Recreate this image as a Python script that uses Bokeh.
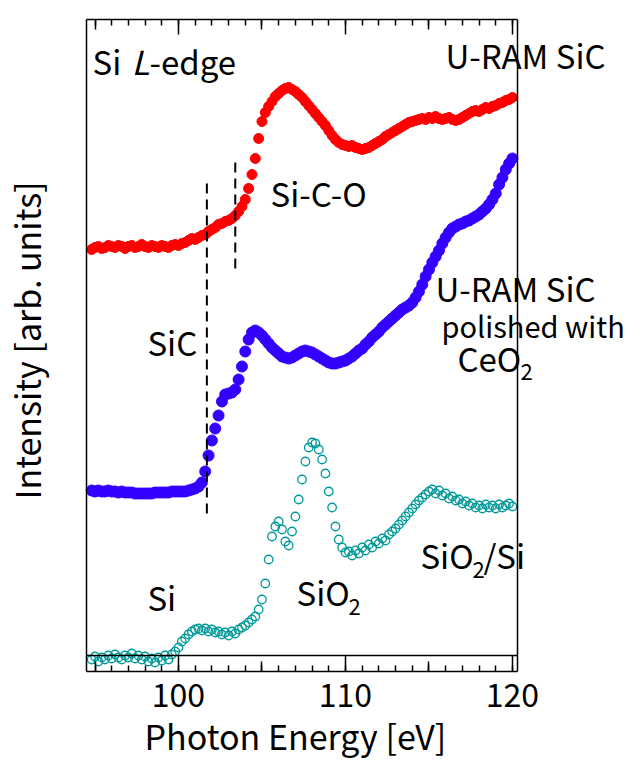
from bokeh.plotting import figure
from bokeh.models import Range1d, LinearAxis, FixedTicker, Label
from bokeh.embed import file_html
from bokeh.resources import INLINE

FONT = "Noto Sans CJK JP"

# ---------------- data (photon energy in eV, intensity in arb. units) ----------------
energy_ev = [
    94.8, 95.0, 95.2, 95.4, 95.6, 95.8, 96.0, 96.2, 96.4, 96.6,
    96.8, 97.0, 97.2, 97.4, 97.6, 97.8, 98.0, 98.2, 98.4, 98.6,
    98.8, 99.0, 99.2, 99.4, 99.6, 99.8, 100.0, 100.2, 100.4, 100.6,
    100.8, 101.0, 101.2, 101.4, 101.6, 101.8, 102.0, 102.2, 102.4, 102.6,
    102.8, 103.0, 103.2, 103.4, 103.6, 103.8, 104.0, 104.2, 104.4, 104.6,
    104.8, 105.0, 105.2, 105.4, 105.6, 105.8, 106.0, 106.2, 106.4, 106.6,
    106.8, 107.0, 107.2, 107.4, 107.6, 107.8, 108.0, 108.2, 108.4, 108.6,
    108.8, 109.0, 109.2, 109.4, 109.6, 109.8, 110.0, 110.2, 110.4, 110.6,
    110.8, 111.0, 111.2, 111.4, 111.6, 111.8, 112.0, 112.2, 112.4, 112.6,
    112.8, 113.0, 113.2, 113.4, 113.6, 113.8, 114.0, 114.2, 114.4, 114.6,
    114.8, 115.0, 115.2, 115.4, 115.6, 115.8, 116.0, 116.2, 116.4, 116.6,
    116.8, 117.0, 117.2, 117.4, 117.6, 117.8, 118.0, 118.2, 118.4, 118.6,
    118.8, 119.0, 119.2, 119.4, 119.6, 119.8, 120.0,
]

uram_sic = [
    422, 424, 425, 423, 424, 426, 425, 424, 426, 425,
    423, 425, 426, 424, 425, 427, 425, 424, 426, 425,
    424, 426, 425, 424, 426, 427, 426, 428, 429, 431,
    433, 432, 434, 436, 437, 440, 442, 444, 447, 448,
    450, 451, 453, 456, 460, 465, 472, 483, 497, 513,
    533, 550, 559, 565, 570, 575, 578, 581, 583, 584,
    582, 580, 577, 574, 570, 566, 562, 558, 554, 550,
    546, 541, 536, 532, 529, 527, 526, 525, 526, 524,
    523, 522, 523, 524, 526, 528, 530, 532, 535, 537,
    539, 541, 543, 545, 547, 549, 550, 551, 552, 553,
    552, 554, 553, 555, 553, 552, 553, 554, 552, 551,
    552, 554, 556, 558, 560, 561, 560, 562, 564, 563,
    565, 566, 568, 569, 571, 572, 574,
]

uram_sic_ceo2 = [
    181, 180, 181, 180, 180, 181, 180, 180, 179, 180,
    179, 179, 179, 178, 178, 178, 178, 178, 178, 179,
    179, 179, 179, 179, 180, 180, 180, 180, 180, 181,
    182, 183, 185, 189, 200, 216, 231, 243, 256, 270,
    277, 278, 279, 282, 292, 305, 320, 332, 339, 341,
    339, 336, 332, 328, 324, 321, 318, 315, 314, 313,
    314, 316, 318, 320, 321, 320, 319, 317, 315, 313,
    311, 309, 308, 308, 309, 310, 311, 313, 315, 318,
    321, 323, 327, 330, 334, 337, 340, 344, 347, 350,
    353, 356, 359, 362, 364, 366, 369, 374, 380, 387,
    395, 402, 409, 415, 421, 428, 434, 439, 443, 445,
    447, 448, 450, 451, 453, 455, 457, 460, 463, 467,
    472, 478, 487, 494, 502, 508, 513,
]

sio2_si = [
    12, 15, 10, 14, 12, 16, 13, 17, 14, 12,
    16, 14, 18, 13, 16, 12, 15, 10, 13, 9,
    14, 11, 16, 12, 17, 20, 24, 30, 33, 37,
    40, 42, 43, 41, 43, 40, 42, 39, 40, 37,
    39, 36, 40, 38, 42, 44, 46, 49, 52, 55,
    62, 72, 88, 112, 135, 145, 150, 142, 130, 126,
    140, 155, 172, 192, 210, 224, 229, 228, 222, 212,
    198, 180, 164, 145, 132, 124, 119, 120, 116, 121,
    118, 124, 121, 127, 124, 130, 128, 133, 131, 137,
    140, 143, 147, 151, 155, 159, 163, 167, 171, 174,
    177, 180, 182, 178, 181, 176, 178, 173, 175, 171,
    172, 168, 170, 166, 168, 164, 166, 163, 167, 164,
    166, 163, 167, 164, 166, 168, 165,
]

# edge markers (dashed lines): energy, lower end, upper end
edge_energy = [101.7, 103.4]
edge_low = [158, 403]
edge_high = [489, 511]

# axes / frame
x_lo, x_hi = 94.49, 120.30        # energy span of the box
y_lo, y_hi = 0, 652               # intensity span of the box
inner_line = 16                   # inner base line of the box
labeled_ticks = [100, 110, 120]
mid_ticks = [95, 105, 115]
minor_ticks = list(range(95, 121))

# ---------------- figure ----------------
p = figure(width=629, height=762,
           x_range=Range1d(89.34, 127.01), y_range=Range1d(-91, 671),
           output_backend="svg", toolbar_location=None,
           x_axis_location=None, y_axis_location=None)
p.min_border = 0
p.outline_line_color = None
p.grid.visible = False
p.background_fill_color = "white"
p.border_fill_color = "white"


def tick_axis(loc, bounds, major, minor, major_len, minor_len, line=True, labels=False):
    ax = LinearAxis(ticker=FixedTicker(ticks=major, minor_ticks=minor),
                    fixed_location=loc, bounds=bounds)
    ax.major_tick_in = major_len
    ax.major_tick_out = 0
    ax.minor_tick_in = minor_len
    ax.minor_tick_out = 0
    ax.major_tick_line_width = 1.5
    ax.minor_tick_line_width = 1.5
    ax.major_tick_line_color = "black"
    ax.minor_tick_line_color = "black" if minor_len else None
    ax.axis_line_width = 1.5
    ax.axis_line_color = "black" if line else None
    if labels:
        ax.major_label_text_font = FONT
        ax.major_label_text_font_size = "32px"
        ax.major_label_text_color = "black"
        ax.major_label_standoff = 11
    else:
        ax.major_label_text_color = None
        ax.major_label_standoff = 0
    return ax


xb = (x_lo, x_hi)
yb = (y_lo, y_hi)
# top edge
p.add_layout(tick_axis(y_hi, xb, labeled_ticks, minor_ticks, 15, 6), "above")
p.add_layout(tick_axis(y_hi, xb, mid_ticks, [], 10, 0, line=False), "above")
# bottom edge with labels
p.add_layout(tick_axis(y_lo, xb, mid_ticks, [], 10, 0, line=False), "below")
p.add_layout(tick_axis(y_lo, xb, labeled_ticks, minor_ticks, 16, 6, labels=True), "below")
# inner base line
p.add_layout(tick_axis(inner_line, xb, [], [], 0, 0), "below")
# left / right edges
p.add_layout(tick_axis(x_lo, yb, [], [], 0, 0), "left")
p.add_layout(tick_axis(x_hi, yb, [], [], 0, 0), "right")

# ---------------- spectra ----------------
p.scatter(energy_ev, sio2_si, marker="circle", size=8.5,
          fill_color=None, line_color="#009999", line_width=1.3)
p.scatter(energy_ev, uram_sic_ceo2, marker="circle", size=11,
          fill_color="#3300ff", line_color="#3300ff")
p.scatter(energy_ev, uram_sic, marker="circle", size=10,
          fill_color="#ff0000", line_color="#ff0000")
p.segment(x0=edge_energy, y0=edge_low, x1=edge_energy, y1=edge_high,
          line_color="black", line_width=2, line_dash="10 6")

# ---------------- texts ----------------
# (text, x, y, size, style, white box behind it, align, angle)
texts = [
    ("Si", 94.85, 611, "33px", "normal", False, "left", 0),
    ("L", 97.19, 611, "33px", "italic", False, "left", 0),
    ("-edge", 98.26, 611, "33px", "normal", False, "left", 0),
    ("U-RAM SiC", 115.99, 617, "33px", "normal", True, "left", 0),
    ("Si-C-O", 105.51, 479, "33px", "normal", False, "left", 0),
    ("SiC", 98.14, 330, "33px", "normal", False, "left", 0),
    ("U-RAM SiC", 115.39, 384, "33px", "normal", True, "left", 0),
    ("polished with", 115.75, 347, "29px", "normal", True, "left", 0),
    ("CeO", 116.71, 314, "33px", "normal", True, "left", 0),
    ("2", 120.48, 300, "22px", "normal", True, "left", 0),
    ("Si", 98.14, 75, "33px", "normal", False, "left", 0),
    ("SiO", 107.07, 80, "33px", "normal", False, "left", 0),
    ("2", 110.18, 65, "22px", "normal", False, "left", 0),
    ("SiO", 114.49, 117, "33px", "normal", True, "left", 0),
    ("2", 117.6, 102, "22px", "normal", True, "left", 0),
    ("/Si", 118.26, 117, "33px", "normal", True, "left", 0),
    ("Photon Energy [eV]", 107.0, -64, "34px", "normal", False, "center", 0),
    ("Intensity [arb. units]", 90.90, 331, "34px", "normal", False, "center",
     1.5707963267948966),
]


def make_label(t, box):
    text, x, y, size, style, bg, align, angle = t
    lab = Label(x=x, y=y, text=text, text_font=FONT, text_font_size=size,
                text_font_style=style, text_color="black", text_align=align,
                text_baseline="alphabetic", angle=angle)
    if box:
        lab.text_alpha = 0.0
        lab.background_fill_color = "white"
        lab.background_fill_alpha = 1.0
        lab.padding = 1
    return lab


# white boxes first (they hide the right edge of the box), then all texts on top
for t in texts:
    if t[5]:
        p.add_layout(make_label(t, True))
for t in texts:
    p.add_layout(make_label(t, False))

open("out.html", "w").write(file_html(p, INLINE))
